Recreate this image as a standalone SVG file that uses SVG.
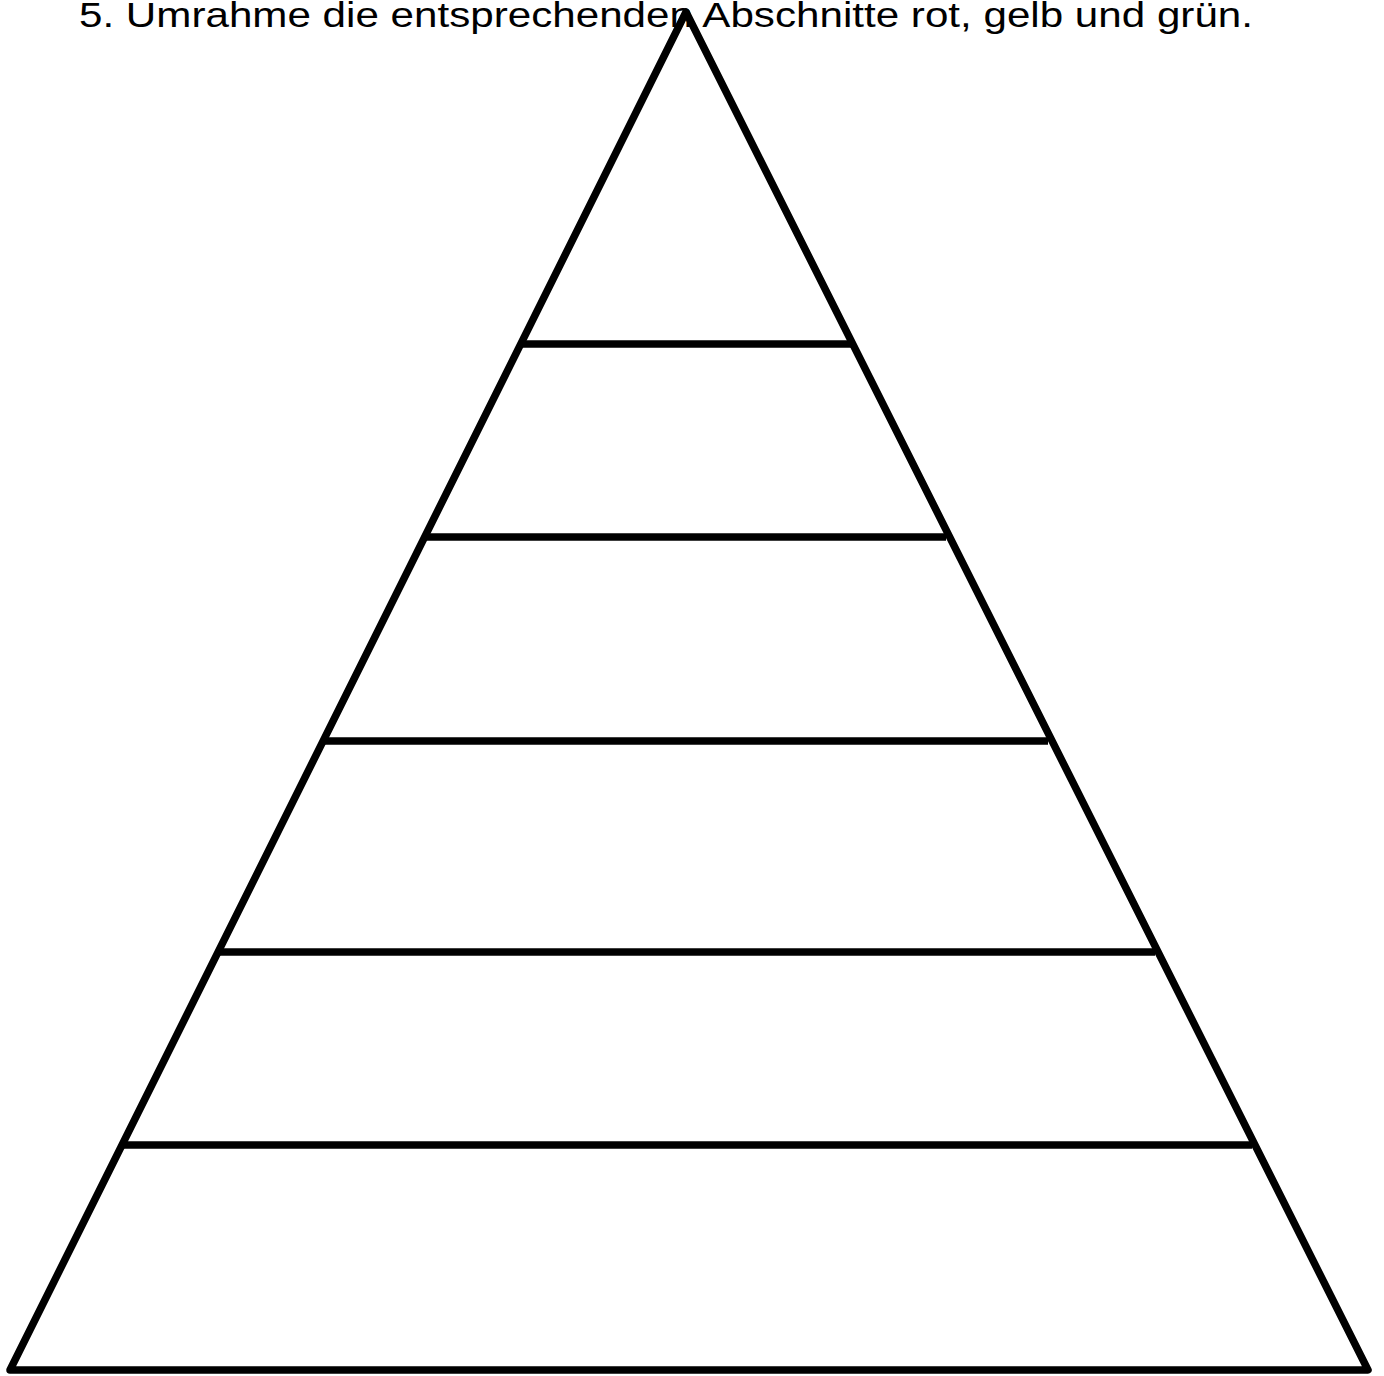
<svg xmlns="http://www.w3.org/2000/svg" width="1384" height="1376" viewBox="0 0 1384 1376">
<style>
.t{font-family:"Liberation Sans",Arial,sans-serif;font-size:35px;fill:#000}
.s{stroke:#000;stroke-width:7.5;fill:none}
</style>
<rect width="1384" height="1376" fill="#fff"/>
<g id="title"><text class="t" x="79" y="27" textLength="1174" lengthAdjust="spacingAndGlyphs">5. Umrahme die entsprechenden Abschnitte rot, gelb und grün.</text></g>
<g id="levels">
<line class="s" x1="521" y1="344" x2="851" y2="344"/>
<line class="s" x1="426" y1="537" x2="946" y2="537"/>
<line class="s" x1="324" y1="741" x2="1048" y2="741"/>
<line class="s" x1="218" y1="952" x2="1155" y2="952"/>
<line class="s" x1="122" y1="1145" x2="1252" y2="1145"/>
</g>
<g id="pyramid"><polygon class="s" stroke-linejoin="round" points="686,12 1368,1370 10,1370"/></g>
</svg>
